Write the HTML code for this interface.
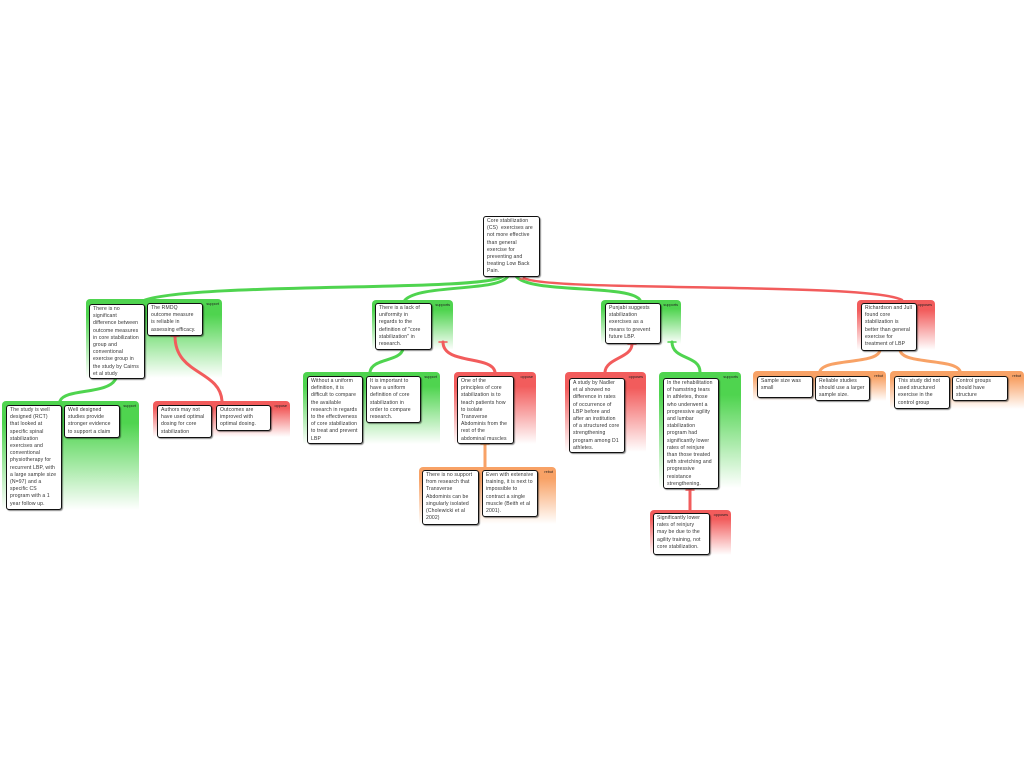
<!DOCTYPE html>
<html><head><meta charset="utf-8"><style>
html,body{margin:0;padding:0;background:#fff;width:1024px;height:768px;overflow:hidden;position:relative;font-family:"Liberation Sans",sans-serif;}
.g{position:absolute;border-radius:4px 4px 0 0;}
.gr{background:linear-gradient(#4fd44f 0%,#4fd44f 20%,rgba(79,212,79,0) 100%);}
.rd{background:linear-gradient(#f25c5c 0%,#f25c5c 20%,rgba(242,92,92,0) 100%);}
.or{background:linear-gradient(#f8a266 0%,#f8a266 20%,rgba(248,162,102,0) 100%);}
.lb{position:absolute;right:3px;top:3px;font-size:3.8px;color:#222;}
.b{position:absolute;background:#fff;border:1px solid #111;border-radius:3px;box-shadow:1px 1px 1px rgba(0,0,0,.45);font-size:5.1px;letter-spacing:0.12px;line-height:7.2px;color:#333;padding:1px 1px 1px 3px;box-sizing:border-box;overflow:hidden;white-space:nowrap;}
svg{position:absolute;left:0;top:0;}
</style></head><body>
<div class="g gr" style="left:86px;top:299px;width:136px;height:79px"><span class="lb">support</span></div>
<div class="g gr" style="left:2px;top:401px;width:137px;height:109px"><span class="lb">support</span></div>
<div class="g rd" style="left:153px;top:401px;width:137px;height:36px"><span class="lb">oppose</span></div>
<div class="g gr" style="left:372px;top:300px;width:81px;height:50px"><span class="lb">supports</span></div>
<div class="g gr" style="left:303px;top:372px;width:137px;height:72px"><span class="lb">support</span></div>
<div class="g rd" style="left:454px;top:372px;width:82px;height:72px"><span class="lb">oppose</span></div>
<div class="g or" style="left:419px;top:467px;width:137px;height:57px"><span class="lb">rebut</span></div>
<div class="g gr" style="left:601px;top:300px;width:80px;height:44px"><span class="lb">supports</span></div>
<div class="g rd" style="left:565px;top:372px;width:81px;height:80px"><span class="lb">opposes</span></div>
<div class="g gr" style="left:659px;top:372px;width:82px;height:116px"><span class="lb">supports</span></div>
<div class="g rd" style="left:650px;top:510px;width:81px;height:45px"><span class="lb">opposes</span></div>
<div class="g rd" style="left:857px;top:300px;width:78px;height:50px"><span class="lb">opposes</span></div>
<div class="g or" style="left:753px;top:371px;width:133px;height:30px"><span class="lb">rebut</span></div>
<div class="g or" style="left:890px;top:371px;width:134px;height:38px"><span class="lb">rebut</span></div>

<svg width="1024" height="768" fill="none" stroke-linecap="round">
<g stroke="#4fd44f">
<path d="M503 276 C490 292 200 282 145 300" stroke-width="3"/>
<path d="M508 276 C500 292 420 284 405 300" stroke-width="3"/>
<path d="M516 276 C528 294 630 284 640 300" stroke-width="3"/>
<path d="M116 378 C110 395 65 388 60 401" stroke-width="3"/>
<path d="M403 349 C400 362 372 358 370 372" stroke-width="3"/>
<path d="M672 342 C672 360 700 355 700 372" stroke-width="3"/>
</g>
<g stroke="#f25c5c">
<path d="M524 278 C545 292 870 282 902 300" stroke-width="2.5"/>
<path d="M175 336 C175 375 220 370 222 401" stroke-width="3"/>
<path d="M443 342 C443 365 492 355 495 372" stroke-width="3"/>
<path d="M632 344 C632 358 606 358 605 372" stroke-width="3"/>
<path d="M690 489 L690 510" stroke-width="3"/>
<path d="M171 336 h8 M439 342 h8 M628 344 h8 M686 490 h8 M520 279 h8" stroke-width="1.5"/>
</g>
<path d="M668 342 h8" stroke="#4fd44f" stroke-width="1.5"/>
<g stroke="#f8a266">
<path d="M485 444 L485 467" stroke-width="3"/>
<path d="M481 444 h8" stroke-width="1.5"/>
<path d="M880 350 C878 365 825 358 820 371" stroke-width="3"/>
<path d="M900 350 C902 365 955 358 960 371" stroke-width="3"/>
</g>
</svg>

<div class="b" style="left:483px;top:216px;width:57px;height:61px">Core stabilization<br>(CS)&nbsp; exercises are<br>not more effective<br>than general<br>exercise for<br>preventing and<br>treating Low Back<br>Pain.</div>
<div class="b" style="left:89px;top:304px;width:56px;height:75px">There is no<br>significant<br>difference between<br>outcome measures<br>in core stabilization<br>group and<br>conventional<br>exercise group in<br>the study by Cairns<br>et al study</div>
<div class="b" style="left:147px;top:303px;width:56px;height:33px">The RMDQ<br>outcome measure<br>is reliable in<br>assessing efficacy.</div>
<div class="b" style="left:6px;top:405px;width:56px;height:105px">The study is well<br>designed (RCT)<br>that looked at<br>specific spinal<br>stabilization<br>exercises and<br>conventional<br>physiotherapy for<br>recurrent LBP, with<br>a large sample size<br>(N=97) and a<br>specific CS<br>program with a 1<br>year follow up.</div>
<div class="b" style="left:64px;top:405px;width:56px;height:33px">Well designed<br>studies provide<br>stronger evidence<br>to support a claim</div>
<div class="b" style="left:157px;top:405px;width:55px;height:33px">Authors may not<br>have used optimal<br>dosing for core<br>stabilization</div>
<div class="b" style="left:216px;top:405px;width:55px;height:26px">Outcomes are<br>improved with<br>optimal dosing.</div>
<div class="b" style="left:375px;top:303px;width:57px;height:47px">There is a lack of<br>uniformity in<br>regards to the<br>definition of "core<br>stabilization" in<br>research.</div>
<div class="b" style="left:307px;top:376px;width:56px;height:68px">Without a uniform<br>definition, it is<br>difficult to compare<br>the available<br>research in regards<br>to the effectiveness<br>of core stabilization<br>to treat and prevent<br>LBP</div>
<div class="b" style="left:366px;top:376px;width:55px;height:47px">It is important to<br>have a uniform<br>definition of core<br>stabilization in<br>order to compare<br>research.</div>
<div class="b" style="left:457px;top:376px;width:57px;height:68px">One of the<br>principles of core<br>stabilization is to<br>teach patients how<br>to isolate<br>Transverse<br>Abdominis from the<br>rest of the<br>abdominal muscles</div>
<div class="b" style="left:422px;top:470px;width:57px;height:55px">There is no support<br>from research that<br>Transverse<br>Abdominis can be<br>singularly isolated<br>(Cholewicki et al<br>2002)</div>
<div class="b" style="left:482px;top:470px;width:56px;height:47px">Even with extensive<br>training, it is next to<br>impossible to<br>contract a single<br>muscle (Beith et al<br>2001).</div>
<div class="b" style="left:605px;top:303px;width:56px;height:41px">Punjabi suggests<br>stabilization<br>exercises as a<br>means to prevent<br>future LBP.</div>
<div class="b" style="left:569px;top:378px;width:56px;height:75px">A study by Nadler<br>et al showed no<br>difference in rates<br>of occurrence of<br>LBP before and<br>after an institution<br>of a structured core<br>strengthening<br>program among D1<br>athletes.</div>
<div class="b" style="left:663px;top:378px;width:56px;height:111px">In the rehabilitation<br>of hamstring tears<br>in athletes, those<br>who underwent a<br>progressive agility<br>and lumbar<br>stabilization<br>program had<br>significantly lower<br>rates of reinjure<br>than those treated<br>with stretching and<br>progressive<br>resistance<br>strengthening.</div>
<div class="b" style="left:653px;top:513px;width:57px;height:42px">Significantly lower<br>rates of reinjury<br>may be due to the<br>agility training, not<br>core stabilization.</div>
<div class="b" style="left:861px;top:303px;width:56px;height:48px">Richardson and Jull<br>found core<br>stabilization is<br>better than general<br>exercise for<br>treatment of LBP</div>
<div class="b" style="left:757px;top:376px;width:56px;height:22px">Sample size was<br>small</div>
<div class="b" style="left:815px;top:376px;width:55px;height:25px">Reliable studies<br>should use a larger<br>sample size.</div>
<div class="b" style="left:894px;top:376px;width:56px;height:33px">This study did not<br>used structured<br>exercise in the<br>control group</div>
<div class="b" style="left:952px;top:376px;width:56px;height:25px">Control groups<br>should have<br>structure</div>
</body></html>
